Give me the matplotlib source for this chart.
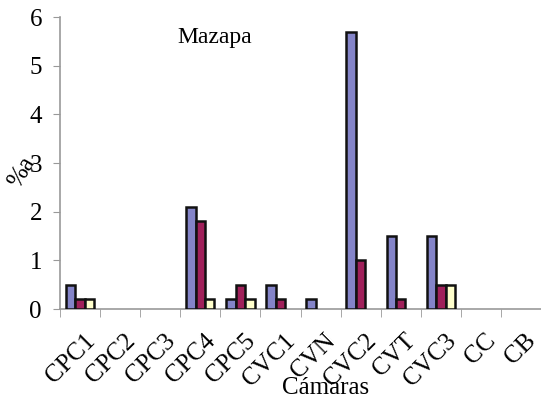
import matplotlib
matplotlib.use("Agg")
import matplotlib.pyplot as plt
import matplotlib.transforms as mtrans
import numpy as np

# datos
camaras = ["CPC1", "CPC2", "CPC3", "CPC4", "CPC5", "CVC1",
           "CVN", "CVC2", "CVT", "CVC3", "CC", "CB"]
serie_azul = [0.5, 0, 0, 2.1, 0.2, 0.5, 0.2, 5.7, 1.5, 1.5, 0, 0]
serie_roja = [0.2, 0, 0, 1.8, 0.5, 0.2, 0, 1.0, 0.2, 0.5, 0, 0]
serie_amarilla = [0.2, 0, 0, 0.2, 0.2, 0, 0, 0, 0, 0.5, 0, 0]
yticks = [0, 1, 2, 3, 4, 5, 6]

plt.rcParams["font.family"] = ["Liberation Serif", "DejaVu Serif"]

fig = plt.figure(figsize=(5.41, 4.03), dpi=100)
ax = fig.add_axes([60/541, 94/403, 481/541, 292/403])

x = np.arange(len(camaras))
w = 0.235
series = [(serie_azul, "#8484C8"), (serie_roja, "#A0205A"), (serie_amarilla, "#FFFFCC")]
for i, (vals, col) in enumerate(series):
    v = np.array(vals, dtype=float)
    m = v > 0
    ax.bar(x[m] + (i - 1) * w, v[m], w, color=col, edgecolor="#111111",
           linewidth=1.8, zorder=3)

ax.set_xlim(-0.5, 11.38)
ax.set_ylim(0, 6)
ax.set_yticks(yticks)
ax.set_xticks(x)
ax.set_xticklabels(camaras, rotation=45, ha="right", rotation_mode="anchor")
ax.set_xticks(np.arange(len(camaras) + 1) - 0.5, minor=True)
ax.tick_params(axis="x", which="major", length=0, labelsize=18, pad=15)
ax.tick_params(axis="x", which="minor", length=6, color="#999999", direction="out")
ax.tick_params(axis="y", labelsize=18, length=5, color="#999999", pad=8)

# desplazar un poco las etiquetas a la derecha
desp = mtrans.ScaledTranslation(4/100, 0, fig.dpi_scale_trans)
for lab in ax.get_xticklabels():
    lab.set_transform(lab.get_transform() + desp)

for s in ["top", "right"]:
    ax.spines[s].set_visible(False)
for s in ["left", "bottom"]:
    ax.spines[s].set_color("#999999")
    ax.spines[s].set_linewidth(1.2)

ax.text(0.245, 0.93, "Mazapa", transform=ax.transAxes, fontsize=17, ha="left", va="center")
fig.text(326/541, 1 - 388/403, "Cámaras", fontsize=18, ha="center", va="center")
fig.text(22/541, 1 - 172/403, "%a", fontsize=18, ha="center", va="center", rotation=60)

fig.savefig("out.png", dpi=100)
